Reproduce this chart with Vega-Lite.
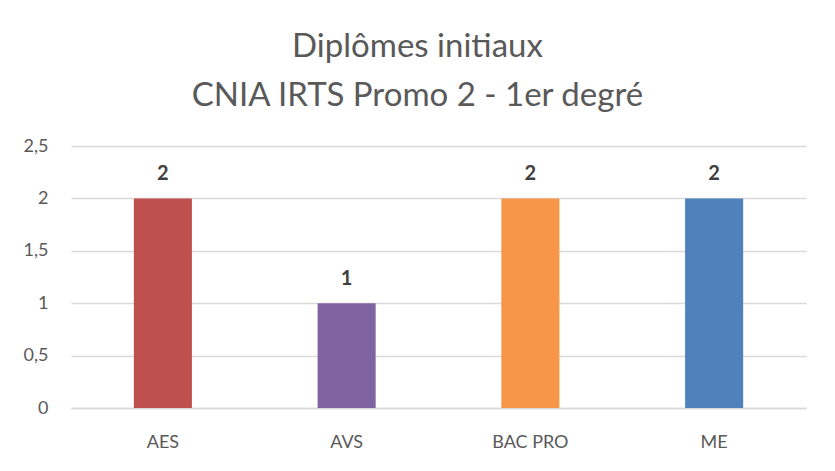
{
  "$schema": "https://vega.github.io/schema/vega-lite/v6.json",
  "width": 735,
  "height": 262,
  "autosize": {"type": "none"},
  "padding": {"left": 71, "top": 146, "right": 29, "bottom": 63},
  "background": "white",
  "title": {
    "text": "Diplômes initiaux",
    "subtitle": "CNIA IRTS Promo 2 - 1er degré",
    "anchor": "middle",
    "dx": -21,
    "font": "Lato",
    "fontSize": 33,
    "fontWeight": "normal",
    "color": "#595959",
    "subtitleFont": "Lato",
    "subtitleFontSize": 33,
    "subtitleColor": "#595959",
    "subtitlePadding": 16,
    "offset": 24
  },
  "data": {
    "values": [
      {"diplome": "AES", "n": 2},
      {"diplome": "AVS", "n": 1},
      {"diplome": "BAC PRO", "n": 2},
      {"diplome": "ME", "n": 2}
    ]
  },
  "config": {
    "view": {"stroke": null},
    "font": "Lato"
  },
  "layer": [
    {
      "mark": {"type": "bar"},
      "encoding": {
        "x": {
          "field": "diplome",
          "type": "nominal",
          "sort": null,
          "scale": {"paddingInner": 0.684, "paddingOuter": 0.342},
          "axis": {
            "title": null,
            "labelAngle": 0,
            "labelFont": "Lato",
            "labelFontSize": 18,
            "labelColor": "#595959",
            "labelPadding": 25,
            "ticks": false,
            "domainColor": "#D9D9D9",
            "domainWidth": 1.5
          }
        },
        "y": {
          "field": "n",
          "type": "quantitative",
          "scale": {"domain": [0, 2.5], "nice": false, "zero": true},
          "axis": {
            "title": null,
            "values": [0, 0.5, 1, 1.5, 2, 2.5],
            "labelExpr": "replace('' + datum.value, '.', ',')",
            "labelFont": "Lato",
            "labelFontSize": 18,
            "labelColor": "#595959",
            "labelPadding": 23,
            "ticks": false,
            "domain": false,
            "gridColor": "#D9D9D9",
            "gridWidth": 1.5
          }
        },
        "color": {
          "field": "diplome",
          "type": "nominal",
          "scale": {
            "domain": ["AES", "AVS", "BAC PRO", "ME"],
            "range": ["#C0504D", "#8064A2", "#F79646", "#4F81BD"]
          },
          "legend": null
        }
      }
    },
    {
      "mark": {
        "type": "text",
        "baseline": "alphabetic",
        "dy": -18,
        "font": "Lato",
        "fontSize": 20,
        "fontWeight": "bold",
        "color": "#404040"
      },
      "encoding": {
        "x": {"field": "diplome", "type": "nominal", "sort": null},
        "y": {"field": "n", "type": "quantitative"},
        "text": {"field": "n", "type": "quantitative"}
      }
    }
  ]
}
